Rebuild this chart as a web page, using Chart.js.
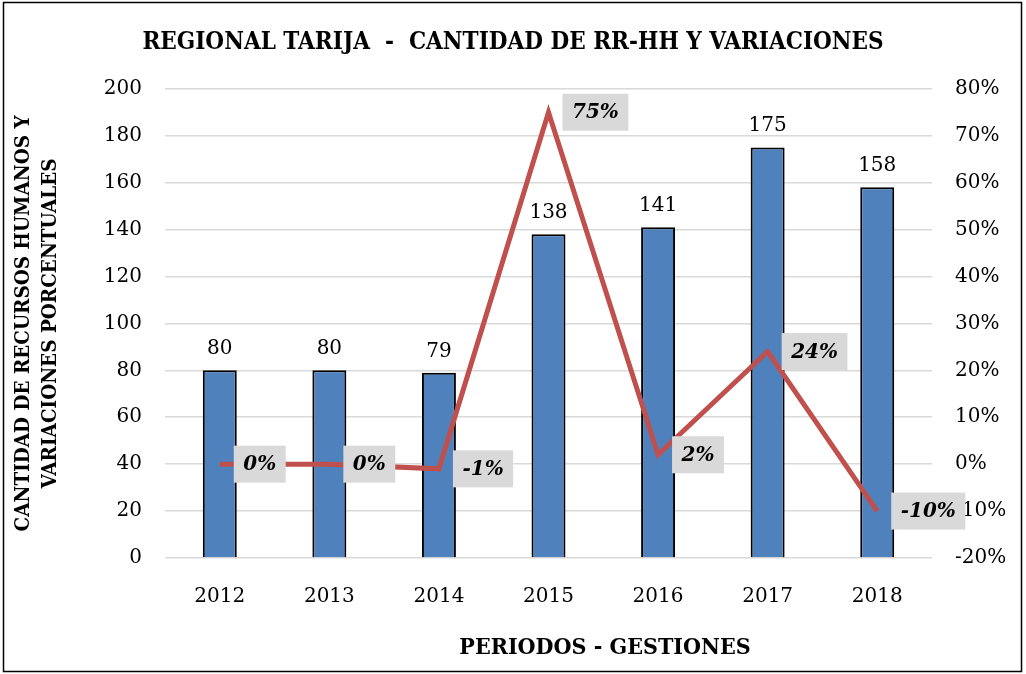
<!DOCTYPE html>
<html>
<head>
<meta charset="utf-8">
<script src="https://cdn.jsdelivr.net/npm/chart.js@4"></script>
<style>
  html, body { margin: 0; padding: 0; background: #fff; }
</style>
</head>
<body>
<canvas id="rrhhChart" width="1026" height="674"></canvas>
<script>
const years = ['2012', '2013', '2014', '2015', '2016', '2017', '2018'];
const staff = [80, 80, 79, 138, 141, 175, 158];
const variation = [0, 0, -1, 75, 2, 24, -10];
const leftTicks = [0, 20, 40, 60, 80, 100, 120, 140, 160, 180, 200];
const rightTicks = [-20, -10, 0, 10, 20, 30, 40, 50, 60, 70, 80];

const serif = '"DejaVu Serif", "Liberation Serif", serif';
const serifBold = '"DejaVu Serif Condensed", "Liberation Serif", serif';

const labelPlugin = {
  id: 'labelPlugin',
  beforeDraw(chart) {
    const ctx = chart.ctx;
    ctx.save();
    ctx.fillStyle = '#fff';
    ctx.fillRect(0, 0, chart.width, chart.height);
    ctx.restore();
  },
  afterDraw(chart) {
    const ctx = chart.ctx;
    ctx.save();

    // numbers on top of the bars
    ctx.font = '20px ' + serif;
    ctx.fillStyle = '#000';
    ctx.textAlign = 'center';
    ctx.textBaseline = 'alphabetic';
    chart.getDatasetMeta(1).data.forEach(function(bar, i) {
      ctx.fillText(String(staff[i]), bar.x, bar.y - 16);
    });

    // percentage boxes next to line points
    ctx.font = 'italic bold 20px ' + serif;
    chart.getDatasetMeta(0).data.forEach(function(pt, i) {
      var txt = variation[i] + '%';
      var w = ctx.measureText(txt).width + 19;
      var h = 37;
      var x0 = pt.x + 14;
      ctx.fillStyle = '#D9D9D9';
      ctx.fillRect(x0, pt.y - h / 2, w, h);
      ctx.fillStyle = '#000';
      ctx.textAlign = 'left';
      ctx.textBaseline = 'middle';
      ctx.fillText(txt, x0 + 9.5, pt.y + 1);
    });

    // x axis title
    ctx.font = 'bold 23px ' + serifBold;
    ctx.textAlign = 'center';
    ctx.textBaseline = 'middle';
    ctx.fillStyle = '#000';
    ctx.fillText('PERIODOS - GESTIONES', 605, 648);

    // outer frame
    ctx.strokeStyle = '#000';
    ctx.lineWidth = 1.5;
    ctx.strokeRect(3.5, 2.5, 1018, 669);
    ctx.restore();
  }
};

const ctx = document.getElementById('rrhhChart').getContext('2d');

new Chart(ctx, {
  data: {
    labels: years,
    datasets: [{
      type: 'line',
      label: 'Variación',
      data: variation,
      yAxisID: 'y1',
      borderColor: '#C0504D',
      borderWidth: 5,
      pointRadius: 0,
      tension: 0,
      order: 0
    }, {
      type: 'bar',
      label: 'RR-HH',
      data: staff,
      yAxisID: 'y',
      backgroundColor: '#4F81BD',
      borderColor: '#000',
      borderWidth: 2,
      barPercentage: 0.31,
      categoryPercentage: 1,
      order: 1
    }]
  },
  options: {
    responsive: false,
    animation: false,
    layout: { padding: 0 },
    plugins: {
      legend: { display: false },
      tooltip: { enabled: false },
      title: {
        display: true,
        text: 'REGIONAL TARIJA  -  CANTIDAD DE RR-HH Y VARIACIONES',
        color: '#000',
        font: { family: serifBold, size: 24, weight: 'bold' },
        padding: { top: 28, bottom: 32 }
      }
    },
    scales: {
      x: {
        grid: { display: false },
        border: { display: false },
        ticks: {
          color: '#000',
          font: { family: serif, size: 20 },
          padding: 19
        },
        afterFit: function(scale) { scale.height = 116; }
      },
      y: {
        position: 'left',
        min: 0,
        max: 200,
        afterBuildTicks: function(scale) {
          scale.ticks = leftTicks.map(function(v) { return { value: v }; });
        },
        grid: { color: '#D9D9D9', lineWidth: 1.5, drawTicks: false },
        border: { display: false },
        ticks: {
          color: '#000',
          font: { family: serif, size: 20 },
          padding: 23
        },
        title: {
          display: true,
          text: ['CANTIDAD DE RECURSOS HUMANOS Y', 'VARIACIONES PORCENTUALES'],
          color: '#000',
          font: { family: serifBold, size: 20.5, weight: 'bold', lineHeight: 1.33 },
          padding: { top: 10, bottom: 0 }
        },
        afterFit: function(scale) { scale.width = 165; }
      },
      y1: {
        position: 'right',
        min: -20,
        max: 80,
        afterBuildTicks: function(scale) {
          scale.ticks = rightTicks.map(function(v) { return { value: v }; });
        },
        grid: { display: false, drawTicks: false },
        border: { display: false },
        ticks: {
          color: '#000',
          font: { family: serif, size: 20 },
          padding: 23,
          callback: function(v) { return v + '%'; }
        },
        afterFit: function(scale) { scale.width = 94; }
      }
    }
  },
  plugins: [labelPlugin]
});
</script>
</body>
</html>
